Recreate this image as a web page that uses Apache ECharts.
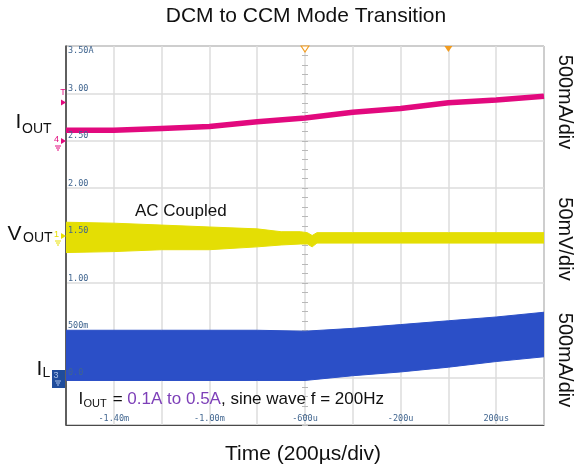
<!DOCTYPE html>
<html>
<head>
<meta charset="utf-8">
<title>DCM to CCM Mode Transition</title>
<script src="https://cdn.jsdelivr.net/npm/echarts@6/dist/echarts.min.js"></script>
<style>
  html, body { margin: 0; padding: 0; background: #fff; }
  #chart { width: 578px; height: 473px; }
</style>
</head>
<body>
<div id="chart"></div>
<script>
// scope screen: 200us per div across, 500m per div up
const timeTicks = [-1400, -1000, -600, -200, 200]
const timeTickLabels = ['-1.40m', '-1.00m', '-600u', '-200u', '200us']
const levelTicks = [0, 0.5, 1, 1.5, 2, 2.5, 3]
const levelTickLabels = ['0.0', '500m', '1.00', '1.50', '2.00', '2.50', '3.00']
const topLevel = 3.5
const topLevelLabel = '3.50A'
const triggerTimes = [-600, 0]

// IOUT (pink)
const ioutTime = [-1600, -1400, -1200, -1000, -800, -600, -400, -200, 0, 200, 400]
const ioutLevel = [2.61, 2.61, 2.63, 2.65, 2.70, 2.74, 2.80, 2.84, 2.90, 2.93, 2.97]

// VOUT (yellow), top and bottom of the noise band
const voutTime = [-1600, -1400, -1200, -1000, -800, -700, -620, -590, -570, -550, -400, -200, 0, 200, 400]
const voutUpper = [1.64, 1.63, 1.61, 1.59, 1.57, 1.54, 1.54, 1.53, 1.50, 1.53, 1.53, 1.53, 1.53, 1.53, 1.53]
const voutLower = [1.32, 1.33, 1.35, 1.35, 1.38, 1.40, 1.41, 1.41, 1.38, 1.42, 1.42, 1.42, 1.42, 1.42, 1.42]

// IL (blue), top and bottom of the switching ripple
const ilTime = [-1600, -1200, -800, -600, -400, -200, 0, 200, 400]
const ilUpper = [0.50, 0.50, 0.50, 0.49, 0.52, 0.56, 0.60, 0.64, 0.69]
const ilLower = [-0.03, -0.03, -0.03, -0.03, 0.02, 0.06, 0.11, 0.17, 0.22]

const PINK = '#e2097e'
const YELLOW = '#e4de04'
const BLUE = '#2b4fc7'
const LABEL = '#40658f'
const SANS = '"Liberation Sans", Arial, sans-serif'
const MONO = '"DejaVu Sans Mono", monospace'

const gridLeft = 66, gridRight = 34, gridTop = 46, gridBottom = 48
const gridWidth = 578 - gridLeft - gridRight
const xMin = -1600, xMax = 400

const zip = (xs, ys) => xs.map((x, i) => [x, ys[i]])

// filled envelope between upper and lower, drawn through the axes
function band(name, time, upper, lower, color) {
  return {
    type: 'custom', name: name, silent: true, clip: true,
    data: zip(time, upper),
    encode: { x: 0, y: 1 },
    renderItem: (params, api) => {
      if (params.dataIndex !== 0) return
      const top = time.map((t, i) => api.coord([t, upper[i]]))
      const bot = time.map((t, i) => api.coord([t, lower[i]])).reverse()
      return {
        type: 'polygon',
        shape: { points: top.concat(bot) },
        style: { fill: color, stroke: color, lineWidth: 1 }
      }
    }
  }
}

const levelAxis = {
  type: 'value', min: -0.5, max: 3.5, interval: 0.5, gridIndex: 0, position: 'left'
}

function centreTicks(inside) {
  return Object.assign({}, levelAxis, {
    offset: -gridWidth * (triggerTimes[0] - xMin) / (xMax - xMin),
    axisLine: { show: false, onZero: false },
    axisTick: { show: true, inside: inside, length: 3, lineStyle: { color: '#b8b8b8' } },
    minorTick: { show: true, splitNumber: 5, length: 3, lineStyle: { color: '#b8b8b8' } },
    axisLabel: { show: false },
    splitLine: { show: false }
  })
}

function gndMark(x, y, color) {
  return [
    { type: 'line', z: 20, shape: { x1: x - 3, y1: y, x2: x + 3, y2: y }, style: { stroke: color, lineWidth: 1 } },
    { type: 'line', z: 20, shape: { x1: x - 2, y1: y + 2, x2: x + 2, y2: y + 2 }, style: { stroke: color, lineWidth: 1 } },
    { type: 'line', z: 20, shape: { x1: x - 1, y1: y + 4, x2: x + 1, y2: y + 4 }, style: { stroke: color, lineWidth: 1 } }
  ]
}

function arrow(y, color) {
  return { type: 'polygon', z: 20, shape: { points: [[61, y - 3], [66, y], [61, y + 3]] }, style: { fill: color } }
}

function text(x, y, str, size, opts, rot) {
  return {
    type: 'text', x: x, y: y, z: 20, rotation: rot || 0,
    style: Object.assign({
      text: str, fontSize: size, fontFamily: SANS, fill: '#111',
      align: 'left', verticalAlign: 'middle'
    }, opts || {})
  }
}

const chart = echarts.init(document.getElementById('chart'))
chart.setOption({
  animation: false,
  grid: {
    left: gridLeft, right: gridRight, top: gridTop, bottom: gridBottom,
    show: true, borderColor: '#4a4a4a', borderWidth: 1
  },
  xAxis: {
    type: 'value', min: xMin, max: xMax, interval: 200,
    axisLine: { show: true, onZero: false, lineStyle: { color: '#4a4a4a', width: 1 } },
    axisTick: { show: false },
    splitLine: { show: true, lineStyle: { color: '#dcdcdc', width: 1.5 } },
    axisLabel: {
      inside: true, margin: 2, verticalAlign: 'bottom',
      color: LABEL, fontFamily: MONO, fontSize: 8.5,
      formatter: v => {
        const i = timeTicks.indexOf(v)
        return i < 0 ? '' : timeTickLabels[i]
      }
    }
  },
  yAxis: [
    Object.assign({}, levelAxis, {
      axisLine: { show: true, onZero: false, lineStyle: { color: '#3a3a3a', width: 1.5 } },
      axisTick: { show: false },
      axisLabel: { show: false },
      splitLine: { show: true, lineStyle: { color: '#dcdcdc', width: 1.5 } }
    }),
    Object.assign({}, levelAxis, {
      z: 10,
      axisLine: { show: false, onZero: false }, axisTick: { show: false }, splitLine: { show: false },
      axisLabel: {
        inside: true, margin: 2, verticalAlign: 'bottom',
        color: LABEL, fontFamily: MONO, fontSize: 8.5,
        formatter: v => {
          const i = levelTicks.indexOf(v)
          return i < 0 ? '' : levelTickLabels[i]
        }
      }
    }),
    Object.assign({}, levelAxis, {
      z: 10,
      axisLine: { show: false, onZero: false }, axisTick: { show: false }, splitLine: { show: false },
      axisLabel: {
        inside: true, margin: 2, verticalAlign: 'top', showMaxLabel: true,
        color: LABEL, fontFamily: MONO, fontSize: 8.5,
        formatter: v => (v === topLevel ? topLevelLabel : '')
      }
    }),
    centreTicks(false),
    centreTicks(true)
  ],
  series: [
    band('IL', ilTime, ilUpper, ilLower, BLUE),
    band('VOUT', voutTime, voutUpper, voutLower, YELLOW),
    {
      type: 'line', name: 'IOUT', data: zip(ioutTime, ioutLevel),
      showSymbol: false, silent: true,
      lineStyle: { color: PINK, width: 5.5 },
      markPoint: {
        symbol: 'triangle', symbolRotate: 180, symbolSize: [8, 6], symbolOffset: [0, 3],
        label: { show: false }, silent: true,
        data: [
          { coord: [triggerTimes[0], topLevel], itemStyle: { color: '#fff', borderColor: '#f29c1f', borderWidth: 1 } },
          { coord: [triggerTimes[1], topLevel], itemStyle: { color: '#f29c1f' } }
        ]
      }
    }
  ],
  graphic: [
    text(306, 16, 'DCM to CCM Mode Transition', 21, { align: 'center' }),
    text(303, 454, 'Time (200µs/div)', 21, { align: 'center' }),
    text(135, 211, 'AC Coupled', 17),

    text(15.5, 122.5, 'I', 21), text(22, 129, 'OUT', 14),
    text(7.5, 234.5, 'V', 21), text(23, 238.5, 'OUT', 14),
    text(36.5, 369.5, 'I', 21), text(42.5, 373.5, 'L', 14),

    text(565, 102, '500mA/div', 20, { align: 'center' }, -Math.PI / 2),
    text(565, 239, '50mV/div', 20, { align: 'center' }, -Math.PI / 2),
    text(565, 360, '500mA/div', 20, { align: 'center' }, -Math.PI / 2),

    // I_OUT = 0.1A to 0.5A, sine wave f = 200Hz
    text(78.5, 399, 'I', 17),
    text(83.5, 404, 'OUT', 11),
    {
      type: 'text', x: 108, y: 399, z: 20,
      style: {
        text: '{m| = }{p|0.1A to 0.5A}{m|, sine wave f = 200Hz}',
        verticalAlign: 'middle',
        rich: {
          m: { fontSize: 17, fontFamily: SANS, fill: '#111' },
          p: { fontSize: 17, fontFamily: SANS, fill: '#7d3fb8' }
        }
      }
    },

    // channel markers on the left edge
    text(63, 93, 'T', 9, { align: 'center', fill: PINK }),
    arrow(102.5, PINK),
    text(56.5, 140, '4', 9, { align: 'center', fill: PINK }),
    arrow(141, PINK),
    ...gndMark(58, 146, PINK),
    text(56.5, 235, '1', 9, { align: 'center', fill: '#e8e000' }),
    arrow(236, '#e8e000'),
    ...gndMark(58, 241, '#e8e000'),
    { type: 'rect', z: 20, shape: { x: 52, y: 370, width: 13, height: 18 }, style: { fill: '#1f4c9c' } },
    text(56, 376, '3', 9, { align: 'center', fill: '#a9c0ea' }),
    ...gndMark(58, 381, '#a9c0ea')
  ]
})
</script>
</body>
</html>
